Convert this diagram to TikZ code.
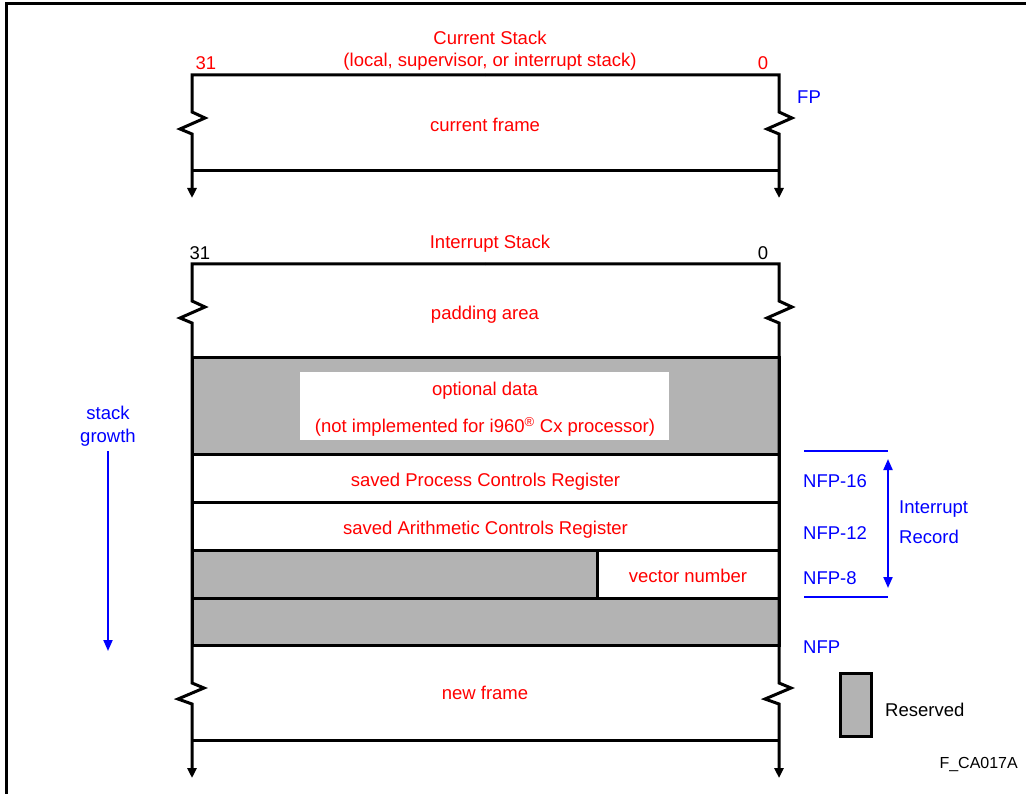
\documentclass[tikz,border=0pt]{standalone}
\usepackage{fontspec}
\setmainfont{Liberation Sans}
\usepackage{tikz}
\usetikzlibrary{arrows.meta, positioning}
\definecolor{rsvgray}{RGB}{179,179,179}

\begin{document}
\begin{tikzpicture}[
      x=1pt, y=-1pt,
      >={Triangle[length=10pt, width=9pt]},
      wall/.style={line width=3pt, line join=miter},
      cell/.style={rectangle, draw, line width=3pt, anchor=north west, outer sep=0pt, minimum width=587pt, minimum height=48pt, inner sep=0pt, text height=17pt, text depth=0pt, font=\fontsize{18.5}{22}\selectfont, text=red},
      rsvd/.style={cell, fill=rsvgray},
      lbl/.style={font=\fontsize{18.5}{22}\selectfont, text=red, inner sep=0pt, text depth=0pt},
      offs/.style={font=\fontsize{18.5}{22}\selectfont, text=blue, inner sep=0pt, anchor=west},
      bluearrow/.style={draw=blue, line width=2pt, >={Triangle[length=11pt, width=9pt]}}
  ]
      \useasboundingbox (0,0) rectangle (1026,794);
      \draw[line width=3pt] (6.5,794) -- (6.5,3.5) -- (1026,3.5);

      % Current Stack
      \node[lbl] (curtitle) at (490,38) {Current Stack};
      \node[lbl] (cursub) at (490,60) {(local, supervisor, or interrupt stack)};
      \node[lbl] (curmsb) at (206,63) {31};
      \node[lbl] (curlsb) at (763,63) {0};
      \draw[wall, ->] (485,75) -| (192,112) -- ++(13,6) -- ++(-25,11) -- ++(12,5) -- (192,198);
      \draw[wall, ->] (485,75) -| (779,112) -- ++(13,6) -- ++(-25,11) -- ++(12,5) -- (779,198);
      \draw[wall] (192,171) -- (779,171);
      \node[lbl] (curframe) at (485,125) {current frame};
      \node[offs] (fp) at (797,97) {FP};

      % Interrupt Stack
      \node[lbl] (inttitle) at (490,242) {Interrupt Stack};
      \node[lbl, text=black] (intmsb) at (200,253) {31};
      \node[lbl, text=black] (intlsb) at (763,253) {0};
      \node[lbl] (padding) at (485,313) {padding area};

      \node[rsvd, minimum height=96pt] (optrow) at (192,358) {};
      \node[fill=white, anchor=north west, minimum width=369pt, minimum height=68pt, inner sep=0pt] (optbox) at (300,372) {};
      \node[lbl] (optdata) at (485,389) {optional data};
      \node[lbl] (optnote) at (485,425) {(not implemented for i960\textsuperscript{®} Cx processor)};
      \node[cell] (pcr) at (192,454) {saved Process Controls Register};
      \node[cell] (acr) at (192,502) {saved Arithmetic Controls Register};
      \node[rsvd, minimum width=405pt] (vecres) at (192,550) {};
      \node[cell, minimum width=182pt] (vecnum) at (597,550) {vector number};
      \node[rsvd, minimum height=47pt] (lastrow) at (192,598) {};

      \draw[wall, ->] (485,264) -| (192,301) -- ++(13,6) -- ++(-25,11) -- ++(12,5) -- (192,683) -- ++(12,5) -- ++(-26,11) -- ++(14,5) -- (192,778);
      \draw[wall, ->] (485,264) -| (779,301) -- ++(13,6) -- ++(-25,11) -- ++(12,5) -- (779,683) -- ++(12,5) -- ++(-26,11) -- ++(14,5) -- (779,778);
      \draw[wall] (192,740) -- (779,740);
      \node[lbl] (newframe) at (485,693) {new frame};

      % Offsets and interrupt record
      \node[offs] (nfp16) at (803,481) {NFP-16};
      \node[offs] (nfp12) at (803,533) {NFP-12};
      \node[offs] (nfp8) at (803,578) {NFP-8};
      \node[offs] (nfp) at (803,647) {NFP};
      \draw[bluearrow] (804,451) -- (888,451) coordinate (rectop);
      \draw[bluearrow] (804,597) -- (888,597) coordinate (recbot);
      \draw[bluearrow, <->, shorten <=8pt, shorten >=9pt] (rectop) -- (recbot);
      \node[offs, align=left, font=\fontsize{18.5}{30}\selectfont] (intrec) at (899,522) {Interrupt\\Record};

      % Stack growth
      \node[lbl, text=blue, align=center, text depth=, font=\fontsize{18.5}{23}\selectfont] (growth) at (108,426) {stack\\growth};
      \coordinate (growthend) at (108,651);
      \draw[bluearrow, ->] (growth.south) ++(0,5) -- (growthend);

      % Legend
      \node[rsvd, minimum width=31pt, minimum height=63pt] (legbox) at (840,673) {};
      \node[lbl, text=black, anchor=west] (legtext) at (885,710) {Reserved};
      \node[lbl, text=black, anchor=east, font=\fontsize{16}{19}\selectfont] (figid) at (1018,763) {F\_CA017A};
  \end{tikzpicture}
\end{document}
